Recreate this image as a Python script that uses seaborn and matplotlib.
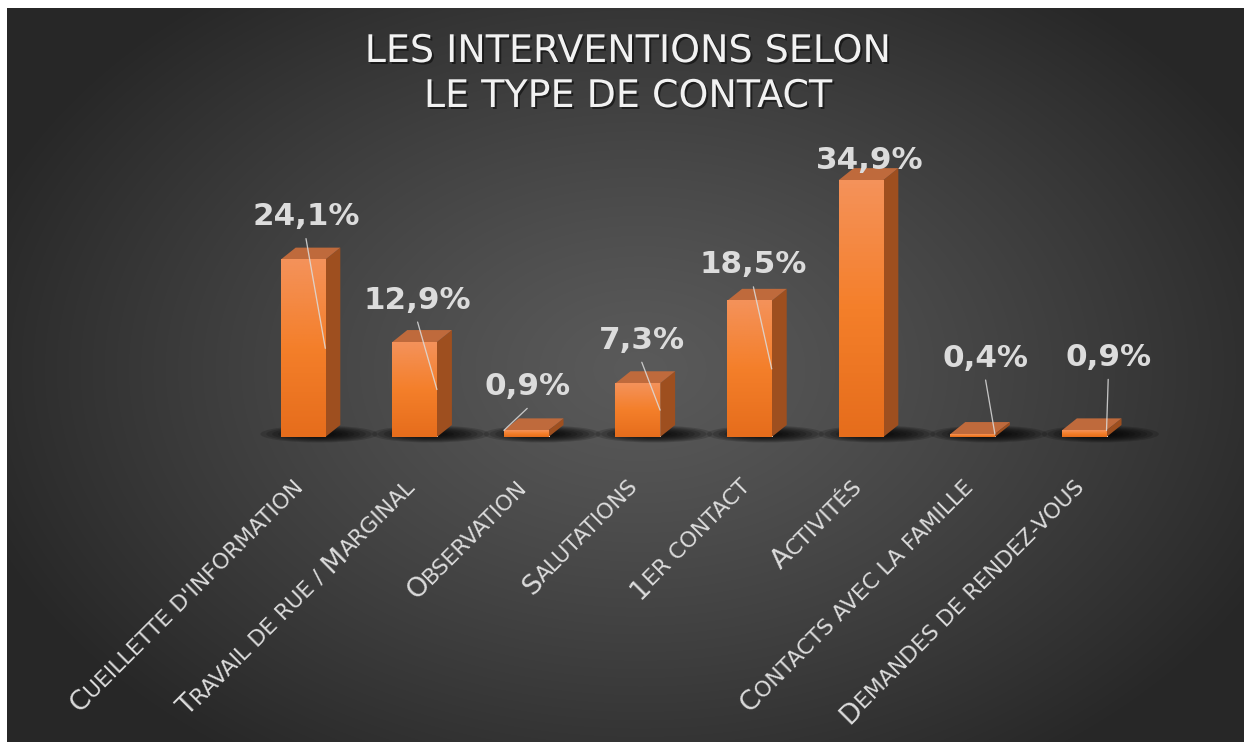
import numpy as np
import matplotlib
matplotlib.use("Agg")
import matplotlib.pyplot as plt
import matplotlib.patheffects as pe
from matplotlib.patches import Polygon, Ellipse
from matplotlib.colors import LinearSegmentedColormap
from matplotlib.font_manager import FontProperties
from matplotlib.textpath import TextToPath
import seaborn as sns

# ---- data ----
categories = ["Cueillette d'information", "Travail de rue / Marginal", "Observation",
              "Salutations", "1er contact", "Activités",
              "Contacts avec la famille", "Demandes de rendez-vous"]
values = [24.1, 12.9, 0.9, 7.3, 18.5, 34.9, 0.4, 0.9]
title_lines = ["LES INTERVENTIONS SELON", "LE TYPE DE CONTACT"]

# ---- layout (pixels) ----
W, H = 1244, 742
label_offsets = [(3, 43), (3, 42), (1, 44), (4, 43), (4, 36), (9, 20), (13, 76), (24, 73)]
leader_side = [1, 1, -1, 1, 1, 0, 1, 1]
depth_px = (15, 12)
LABEL_COL = "#DCDCDC"

sns.set_theme(style="white")
plt.rcParams["font.family"] = ["DejaVu Sans"]

fig = plt.figure(figsize=(W / 72, H / 72), dpi=72, facecolor="white")

# background with radial gradient (white strip only at top and left)
bg = fig.add_axes([7 / W, -0.01, 1.0, 1.01 - 8 / H])
bg.axis("off")
bw, bh = W, H
X, Y = np.meshgrid(np.arange(bw), np.arange(bh))
r = np.sqrt(((X - 633) / 700.0) ** 2 + ((Y - 362) / 480.0) ** 2)
shade = (0x5a - (0x5a - 0x27) * np.clip(r, 0, 1) ** 1.2) / 255.0
bg.imshow(np.dstack([shade, shade, shade]), extent=[0, bw, bh, 0], aspect="auto")
bg.set_xlim(0, bw)
bg.set_ylim(bh, 0)

# main axes
x_range = (-0.5, len(values) - 0.5)
y_range = (0, 40)
ax_left, ax_w = 247.2, 892.8
ax_bottom_px, ax_h = 437, 294.4
ax = fig.add_axes([ax_left / W, (H - ax_bottom_px) / H, ax_w / W, ax_h / H])
ax.patch.set_alpha(0)

sns.barplot(x=categories, y=values, width=0.4, color="#F47F2A", ax=ax, zorder=3)

ppu_x = ax_w / (x_range[1] - x_range[0])
ppu_y = ax_h / (y_range[1] - y_range[0])
dx, dy = depth_px[0] / ppu_x, depth_px[1] / ppu_y

front_cmap = LinearSegmentedColormap.from_list("front", ["#E66D1C", "#F47F2A", "#F4925A"])
side_col = "#9E4F1F"
top_col = "#BF6A3C"

for i, bar in enumerate(ax.patches):
    x0, w, h = bar.get_x(), bar.get_width(), bar.get_height()
    x1 = x0 + w
    # soft shadow at the base, pushed to the right
    for k in range(8):
        s = 1 - k * 0.1
        ax.add_patch(Ellipse((i + 16 / ppu_x, 0.4), 1.05 * s, 2.3 * s, color="black",
                             alpha=0.16, lw=0, zorder=2, clip_on=False))
    ax.imshow(np.linspace(0, 1, 64).reshape(-1, 1), extent=[x0, x1, 0, h], origin="lower",
              aspect="auto", cmap=front_cmap, zorder=3.5)
    ax.add_patch(Polygon([(x1, 0), (x1, h), (x1 + dx, h + dy), (x1 + dx, dy)],
                         closed=True, color=side_col, lw=0, zorder=3.4, clip_on=False))
    ax.add_patch(Polygon([(x0, h), (x1, h), (x1 + dx, h + dy), (x0 + dx, h + dy)],
                         closed=True, color=top_col, lw=0, zorder=3.4, clip_on=False))

    # value label and leader line
    ox, oy = label_offsets[i]
    ax.annotate(f"{values[i]:.1f}%".replace(".", ","), xy=(i, h), xytext=(ox, oy),
                textcoords="offset points", ha="center", va="center", fontsize=31,
                fontweight="bold", color=LABEL_COL, zorder=6, annotation_clip=False)
    side = leader_side[i]
    if side != 0:
        tx = i + side * w / 2
        ty = h / 2 if h > 2 else h
        ax.plot([i + ox / ppu_x, tx], [h + (oy - 22) / ppu_y, ty], color=LABEL_COL,
                lw=1.3, alpha=0.85, zorder=5, clip_on=False)

ax.set_xlim(*x_range)
ax.set_ylim(*y_range)
ax.axis("off")

# rotated small-caps category labels
ttp = TextToPath()


def text_width(s, size):
    fp = FontProperties(family="DejaVu Sans", size=size)
    return ttp.get_text_width_height_descent(s + "x", fp, ismath=False)[0] - \
        ttp.get_text_width_height_descent("x", fp, ismath=False)[0]


def small_caps_runs(s, big=27, small=22):
    runs = []
    for ch in s:
        if ch.isupper() or ch.isdigit():
            size = big
        elif ch.islower():
            size = small
        else:
            size = runs[-1][1] if runs else small
        if runs and runs[-1][1] == size:
            runs[-1][0] += ch.upper()
        else:
            runs.append([ch.upper(), size])
    return runs


u = np.array([np.cos(np.pi / 4), np.sin(np.pi / 4)])
anchor = np.array([2.0, -51.0])
for i, cat in enumerate(categories):
    runs = small_caps_runs(cat)
    widths = [text_width(t, s) for t, s in runs]
    pos = anchor - sum(widths) * u
    for (t, s), wd in zip(runs, widths):
        ax.annotate(t, xy=(i, 0), xytext=tuple(pos), textcoords="offset points",
                    rotation=45, rotation_mode="anchor", ha="left", va="baseline",
                    fontsize=s, color=LABEL_COL, annotation_clip=False, zorder=6)
        pos = pos + wd * u

# title
shadow = [pe.SimplePatchShadow(offset=(2, -2), shadow_rgbFace="black", alpha=0.5), pe.Normal()]
for k, line in enumerate(title_lines):
    fig.text(628 / W, 1 - (52 + 45 * k) / H, line, ha="center", va="center",
             fontsize=38, color="#F2F2F2", path_effects=shadow)

fig.savefig("out.png", dpi=72, facecolor="white")
